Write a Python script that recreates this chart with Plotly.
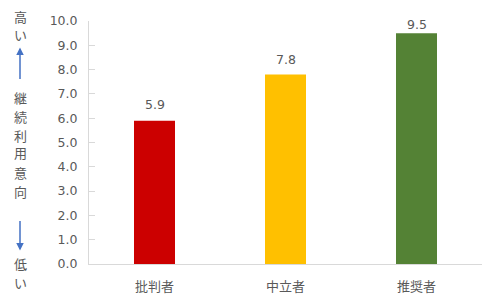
import plotly.graph_objects as go

# Chart data
categories = ["批判者", "中立者", "推奨者"]
scores = [5.9, 7.8, 9.5]
bar_colors = ["#CC0000", "#FFC000", "#548235"]
tick_values = [i for i in range(11)]
tick_labels = [f"{v:.1f}" for v in tick_values]

# Pixel offset of each value label above its bar (top one is kept inside the plot)
label_offsets = [16, 15, 9]

W, H = 494, 304
L, R, T, B = 89, 12, 20.5, 39.5
plot_w = W - L - R
plot_h = H - T - B
TEXT = "#595959"
FONT = "DejaVu Sans, Noto Sans CJK JP"


def px_x(x):
    return (x - L) / plot_w


def px_y(y):
    return (H - B - y) / plot_h


fig = go.Figure(
    go.Bar(
        x=categories,
        y=scores,
        marker=dict(color=bar_colors, line=dict(width=0)),
        hoverinfo="x+y",
    )
)

annotations = []

# Value labels above the bars
for cat, v, off in zip(categories, scores, label_offsets):
    annotations.append(dict(
        x=cat, y=v, xref="x", yref="y", text=f"{v:.1f}",
        showarrow=False, yshift=off, xanchor="center", yanchor="middle",
        font=dict(size=12.5, color=TEXT, family=FONT),
    ))

# Vertical side caption: "高い ↑ 継続利用意向 ↓ 低い"
side_chars = [("高", 17), ("い", 35), ("継", 98), ("続", 117), ("利", 136),
              ("用", 154), ("意", 174), ("向", 193), ("低", 265), ("い", 284)]
for ch, y in side_chars:
    annotations.append(dict(
        x=px_x(20), y=px_y(y), xref="paper", yref="paper", text=ch,
        showarrow=False, font=dict(size=13, color=TEXT, family=FONT),
        xanchor="center", yanchor="middle",
    ))

ARROW = "#4472C4"
annotations.append(dict(
    x=px_x(20), y=px_y(47), xref="paper", yref="paper", text="",
    showarrow=True, ax=0, ay=33, axref="pixel", ayref="pixel",
    arrowhead=2, arrowsize=1, arrowwidth=1.5, arrowcolor=ARROW,
))
annotations.append(dict(
    x=px_x(20), y=px_y(251), xref="paper", yref="paper", text="",
    showarrow=True, ax=0, ay=-31, axref="pixel", ayref="pixel",
    arrowhead=2, arrowsize=1, arrowwidth=1.5, arrowcolor=ARROW,
))

fig.update_layout(
    width=W, height=H,
    margin=dict(l=L, r=R, t=T, b=B, pad=0),
    paper_bgcolor="white", plot_bgcolor="white",
    bargap=0.687,
    showlegend=False,
    font=dict(family=FONT, color=TEXT),
    annotations=annotations,
    xaxis=dict(
        automargin=False,
        showline=True, linecolor="#D9D9D9", linewidth=1,
        ticks="", showgrid=False,
        tickfont=dict(size=13, color=TEXT, family=FONT),
        ticklabelstandoff=10,
    ),
    yaxis=dict(
        automargin=False,
        range=[0, 10], tickvals=tick_values, ticktext=tick_labels,
        showline=True, linecolor="#D9D9D9", linewidth=1,
        ticks="inside", ticklen=6, tickcolor="#D9D9D9",
        showgrid=False, zeroline=False,
        tickfont=dict(size=12.5, color=TEXT, family=FONT),
        ticklabelstandoff=8,
    ),
)

fig.write_html("out.html")
